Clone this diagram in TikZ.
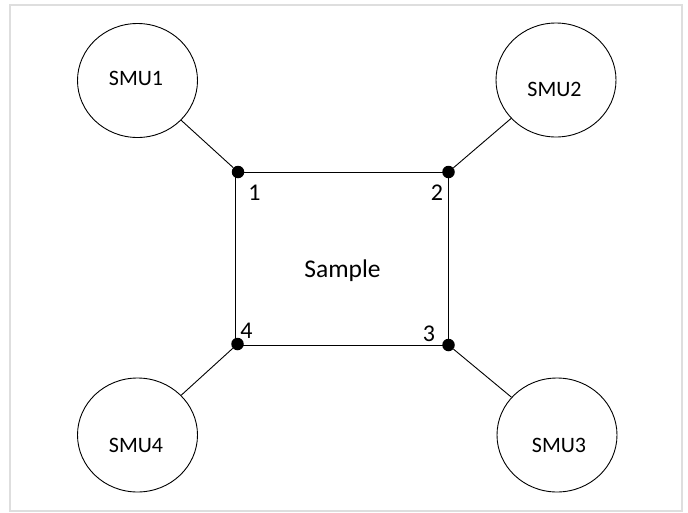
\documentclass[tikz,border=0pt]{standalone}
\usepackage{fontspec}
\setmainfont{Carlito}
\usetikzlibrary{shapes.geometric}
\begin{document}
\begin{tikzpicture}[x=1pt,y=-1pt,
  smu/.style={draw=black,line width=0.9pt,ellipse,minimum width=120pt,minimum height=114pt,inner sep=0pt},
  smutext/.style={anchor=base,inner sep=0pt,font=\fontsize{22}{25}\selectfont},
  numtext/.style={anchor=base,inner sep=0pt,font=\fontsize{24}{27}\selectfont},
  dot/.style={circle,fill=black,draw=none,minimum size=12.5pt,inner sep=0pt},
  wire/.style={draw=black,line width=0.9pt},
  frame/.style={draw=black!13,line width=2pt}]
\useasboundingbox (0,0) rectangle (688,512);
\draw[frame] (9.5,4.5) rectangle (681.5,510.5);
% SMU ellipses
\node[smu] (e1) at (137.5,80.5) {};
\node[smu] (e2) at (556,80) {};
\node[smu] (e3) at (557,435) {};
\node[smu] (e4) at (137.5,435) {};
\node[smutext] (t1) at (136,85) {SMU1};
\node[smutext] (t2) at (554.5,96.5) {SMU2};
\node[smutext] (t3) at (559,452.3) {SMU3};
\node[smutext] (t4) at (136,452.3) {SMU4};
% sample
\coordinate (c1) at (235.5,172);
\coordinate (c3) at (448.5,345);
\draw[wire] (c1) rectangle (c3);
\node[anchor=base,inner sep=0pt,font=\fontsize{25.5}{29}\selectfont] (smp) at (342.5,277.5) {Sample};
% contact dots
\node[dot] (d1) at (238,172) {};
\node[dot] (d2) at (448.5,172) {};
\node[dot] (d3) at (448.5,345) {};
\node[dot] (d4) at (237.5,344) {};
\node[numtext] (n1) at (254.5,200.7) {1};
\node[numtext] (n2) at (437,200.7) {2};
\node[numtext] (n3) at (429,341.7) {3};
\node[numtext] (n4) at (246.5,338.3) {4};
% wires
\draw[wire] (e1) -- (d1);
\draw[wire] (e2) -- (d2);
\draw[wire] (e3) -- (d3);
\draw[wire] (e4) -- (d4);
\end{tikzpicture}
\end{document}
